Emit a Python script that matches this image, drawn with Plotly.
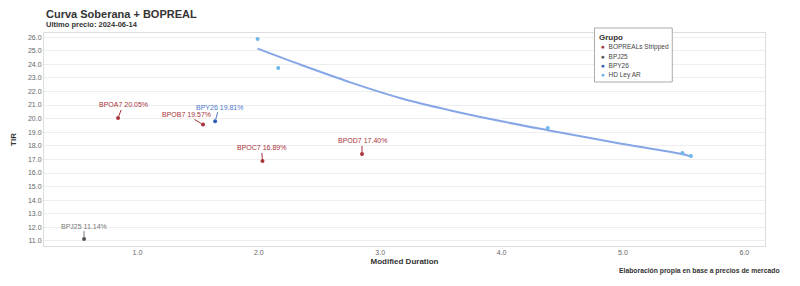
import plotly.graph_objects as go

# ---- data ----
bopreal_names = ["BPOA7", "BPOB7", "BPOC7", "BPOD7"]
bopreal_md = [0.84, 1.54, 2.03, 2.85]
bopreal_tir = [20.05, 19.57, 16.89, 17.40]

bpj25_name = ["BPJ25"]
bpj25_md = [0.56]
bpj25_tir = [11.14]

bpy26_name = ["BPY26"]
bpy26_md = [1.64]
bpy26_tir = [19.81]

hd_md = [1.99, 2.16, 4.38, 5.49, 5.56]
hd_tir = [25.85, 23.72, 19.31, 17.47, 17.25]

curve_md = [1.99, 2.35, 2.76, 3.17, 3.58, 4.00, 4.38, 4.93, 5.48, 5.56]
curve_tir = [25.15, 23.95, 22.65, 21.50, 20.60, 19.80, 19.15, 18.25, 17.40, 17.22]

y_ticks = [11, 12, 13, 14, 15, 16, 17, 18, 19, 20, 21, 22, 23, 24, 25, 26]
x_ticks = [1, 2, 3, 4, 5, 6]

legend_title = "Grupo"
legend_names = ["BOPREALs Stripped", "BPJ25", "BPY26", "HD Ley AR"]

# label offsets (pixels)
bopreal_off = [(5, -13), (-17, -10), (-1, -13), (0, -13)]
bpj25_off = [(0, -13)]
bpy26_off = [(4, -14)]

C_RED = "#a8323a"
C_GRAY = "#555555"
C_BLUE = "#2f5fb3"
C_LBLUE = "#6cb8ea"
C_LINE = "#86a6e8"
FONT = "Liberation Sans, Arial, sans-serif"
legend_colors = [C_RED, C_GRAY, C_BLUE, C_LBLUE]

fig = go.Figure()
fig.add_trace(go.Scatter(x=curve_md, y=curve_tir, mode="lines",
                         line=dict(color=C_LINE, width=2, shape="spline", smoothing=1.0),
                         showlegend=False, hoverinfo="skip"))
for name, xs, ys, col in [(legend_names[0], bopreal_md, bopreal_tir, C_RED),
                          (legend_names[1], bpj25_md, bpj25_tir, C_GRAY),
                          (legend_names[2], bpy26_md, bpy26_tir, C_BLUE),
                          (legend_names[3], hd_md, hd_tir, C_LBLUE)]:
    fig.add_trace(go.Scatter(x=xs, y=ys, mode="markers", name=name,
                             marker=dict(color=col, size=4), showlegend=False))

annotations = []
def add_labels(names, xs, ys, offs, color):
    for n, xv, yv, (ax, ay) in zip(names, xs, ys, offs):
        annotations.append(dict(x=xv, y=yv, xref="x", yref="y", text=f"{n} {yv:.2f}%",
                                showarrow=True, arrowhead=0, arrowwidth=1, arrowcolor=color,
                                ax=ax, ay=ay, standoff=2,
                                font=dict(size=7, color=color, family=FONT)))

add_labels(bopreal_names, bopreal_md, bopreal_tir, bopreal_off, C_RED)
add_labels(bpj25_name, bpj25_md, bpj25_tir, bpj25_off, "#777777")
add_labels(bpy26_name, bpy26_md, bpy26_tir, bpy26_off, "#4a78cc")

annotations += [
    dict(text="<b>Curva Soberana + BOPREAL</b>", xref="paper", yref="paper", x=0, y=1.0,
         xanchor="left", yanchor="bottom", yshift=11, showarrow=False,
         font=dict(size=11, color="#333333", family=FONT)),
    dict(text="<b>Ultimo precio: 2024-06-14</b>", xref="paper", yref="paper", x=0, y=1.0,
         xanchor="left", yanchor="bottom", yshift=2, showarrow=False,
         font=dict(size=7.5, color="#333333", family=FONT)),
    dict(text="<b>Elaboración propia en base a precios de mercado</b>", xref="paper", yref="paper",
         x=1.024, y=-0.118, xanchor="right", yanchor="middle", showarrow=False,
         font=dict(size=6.8, color="#333333", family=FONT)),
]

# custom compact legend (ggplot-like)
LEG_X0, LEG_X1, LEG_Y0, LEG_Y1 = 0.7635, 0.8714, 0.770, 1.0235
annotations.append(dict(text=f"<b>{legend_title}</b>", xref="paper", yref="paper", x=0.7676, y=0.981,
                        xanchor="left", yanchor="middle", showarrow=False,
                        font=dict(size=8, color="#333333", family=FONT)))
for i, (nm, col) in enumerate(zip(legend_names, legend_colors)):
    annotations.append(dict(text=f"<span style='color:{col}'>●</span>  {nm}", xref="paper", yref="paper",
                            x=0.7700, y=0.934 - i * 0.0435, xanchor="left", yanchor="middle",
                            showarrow=False, font=dict(size=6.5, color="#444444", family=FONT)))

fig.update_layout(
    width=800, height=286,
    margin=dict(l=42, r=35, t=33, b=40),
    paper_bgcolor="white", plot_bgcolor="white",
    font=dict(family=FONT, size=7, color="#555555"),
    annotations=annotations,
    showlegend=False,
    shapes=[dict(type="rect", xref="paper", yref="paper", x0=LEG_X0, x1=LEG_X1, y0=LEG_Y0, y1=LEG_Y1,
                 line=dict(color="#aaaaaa", width=1), fillcolor="white", layer="above")],
    xaxis=dict(range=[0.23, 6.17], tickvals=x_ticks, tickformat=".1f",
               showgrid=False, zeroline=False, showline=True, linecolor="#dddddd", mirror=True,
               ticks="", tickfont=dict(size=7, color="#666666"),
               title=dict(text="<b>Modified Duration</b>", standoff=2,
                          font=dict(size=8, color="#333333"))),
    yaxis=dict(range=[10.63, 26.3], tickvals=y_ticks, ticksuffix="%", tickformat=".1f",
               showgrid=True, gridcolor="#eeeeee", gridwidth=1, zeroline=False,
               showline=True, linecolor="#dddddd", mirror=True,
               ticks="", tickfont=dict(size=7, color="#666666"),
               title=dict(text="<b>TIR</b>", standoff=10, font=dict(size=8, color="#333333"))),
)

fig.write_html("out.html")
